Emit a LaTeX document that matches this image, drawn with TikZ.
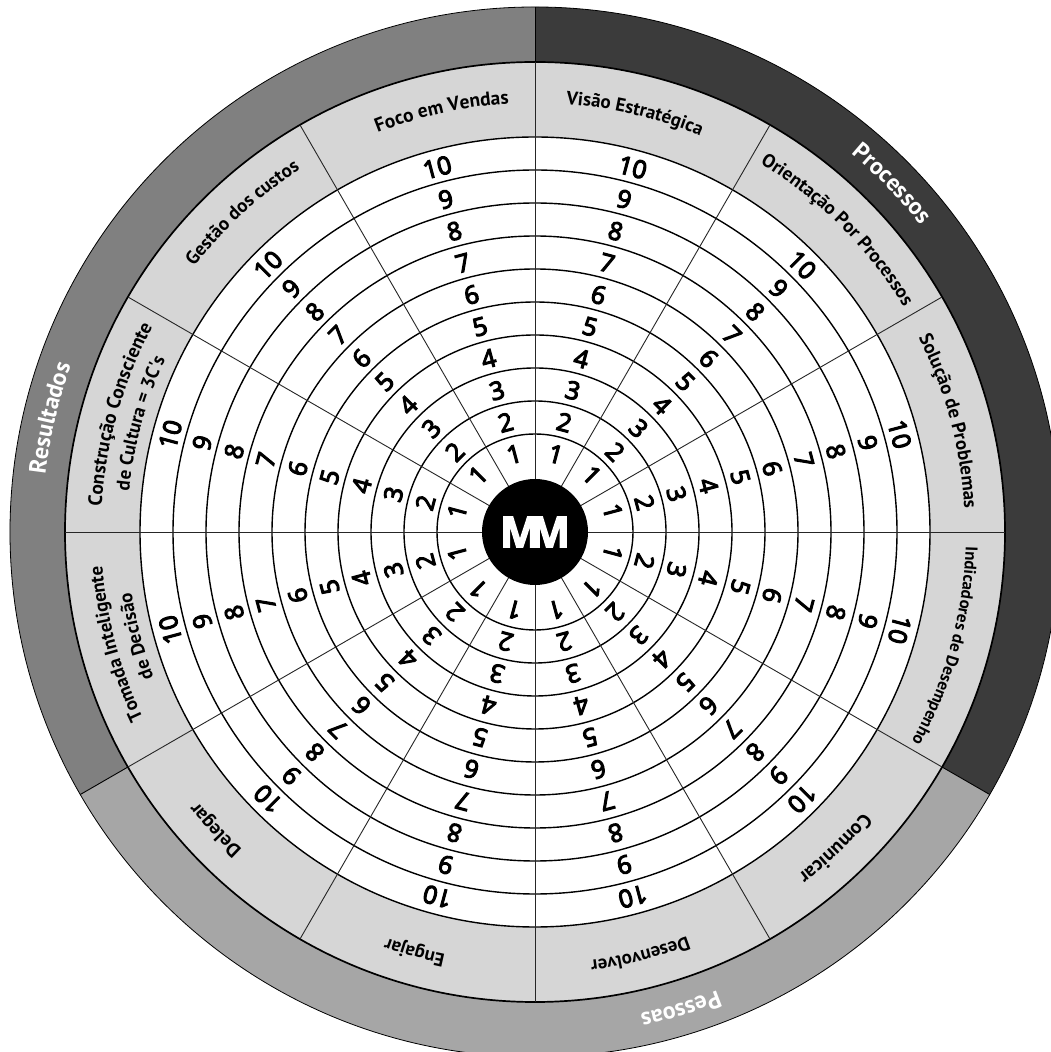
\documentclass[tikz,border=0pt]{standalone}
\usepackage{fontspec}
\usetikzlibrary{decorations.text}
\setmainfont{PT Sans}
\newfontfamily\numfont[FakeBold=4.5]{Open Sans}
\newfontfamily\labfont{PT Sans Bold}
\newfontfamily\logofont[FakeBold=3]{Open Sans Bold}
\definecolor{bandproc}{HTML}{3B3B3B}
\definecolor{bandpess}{HTML}{A6A6A6}
\definecolor{bandres}{HTML}{808080}
\definecolor{bandlight}{HTML}{D6D6D6}
\newcommand{\ringlabel}[4][black]{%
  \path[postaction={decorate,decoration={text along path,text align=center,
    text={|\labfont\fontsize{#2}{#2}\selectfont\color{#1}|#3}}}] #4;}
\newcommand{\arcpath}[2]{({#2+30}:#1 bp) arc[start angle={#2+30},end angle={#2-30},radius=#1 bp]}
\begin{document}
\begin{tikzpicture}[x=1bp,y=1bp,
  numstyle/.style={inner sep=0pt,font=\numfont\fontsize{25}{25}\selectfont},
  ringline/.style={draw=black,line width=1.4bp},
  spoke/.style={draw=black!85,line width=0.9bp}]
\useasboundingbox (0,0) rectangle (1051,1052);
\clip (0,0) rectangle (1051,1052);
\begin{scope}[shift={(535,520)}]
  % outer band
  \fill[bandproc] (0,0) -- (90:525bp) arc[start angle=90,end angle=-30,radius=525bp] -- cycle;
  \fill[bandpess] (0,0) -- (-30:525bp) arc[start angle=-30,end angle=-150,radius=525bp] -- cycle;
  \fill[bandres] (0,0) -- (-150:525bp) arc[start angle=-150,end angle=-270,radius=525bp] -- cycle;
  \draw[black,line width=0.8bp] (0,0) circle[radius=525bp];
  \foreach \a in {90,-30,210} \draw[black,line width=0.9bp] (\a:470bp) -- (\a:525bp);
  % light band
  \fill[bandlight] (0,0) circle[radius=470bp];
  \draw[black,line width=1.7bp] (0,0) circle[radius=470bp];
  \fill[white] (0,0) circle[radius=395bp];
  % rings
  \foreach \k in {1,...,10} \draw[ringline] (0,0) circle[radius={(98+33*(\k-1))*1bp}];
  % spokes
  \foreach \a in {0,30,...,330} \draw[spoke] (\a:50bp) -- (\a:470bp);
  % numbers
  \foreach \s in {75,45,15,-15,-45,-75,-105,-135,-165,-195,-225,-255}
    \foreach \k in {1,...,10}
      \node[numstyle,rotate={\s-90}] (n\s-\k) at (\s:{(98+33*(\k-1)-17.5)*1bp}) {\k};
  % centre
  \fill[black] (0,0) circle[radius=53bp];
  \node[inner sep=0pt,text=white,font=\logofont\fontsize{43}{43}\selectfont] (logo) at (0,0) {M\kern-0.25em M};
  % sector labels
  \ringlabel{19}{Visão Estratégica}{\arcpath{429}{76.6}}
  \ringlabel{19.5}{Foco em Vendas}{\arcpath{429}{102.5}}
  \ringlabel{19}{Gestão dos custos}{\arcpath{432}{132.5}}
  \ringlabel{19}{Orientação Por Processos}{\arcpath{432}{45}}
  \ringlabel{19}{Solução de Problemas}{\arcpath{430}{15}}
  \ringlabel{17}{Indicadores de Desempenho}{\arcpath{431}{-15.5}}
  \ringlabel{20}{Comunicar}{\arcpath{432}{-46.5}}
  \ringlabel{19}{Desenvolver}{\arcpath{432}{-76}}
  \ringlabel{19}{Engajar}{\arcpath{432}{-106}}
  \ringlabel{19.5}{Delegar}{\arcpath{432}{-137}}
  \ringlabel{19.5}{Construção Consciente}{\arcpath{434}{164.2}}
  \ringlabel{19}{de Cultura = 3C's}{\arcpath{408}{164.6}}
  \ringlabel{19}{Tomada Inteligente}{\arcpath{434}{195}}
  \ringlabel{19}{de Decisão}{\arcpath{408}{194.7}}
  % band labels
  \ringlabel[white]{24}{Resultados}{\arcpath{493}{166.8}}
  \ringlabel[white]{24}{Processos}{\arcpath{493}{44.3}}
  \ringlabel[white]{24}{Pessoas}{\arcpath{493}{-73}}
\end{scope}
\end{tikzpicture}
\end{document}
